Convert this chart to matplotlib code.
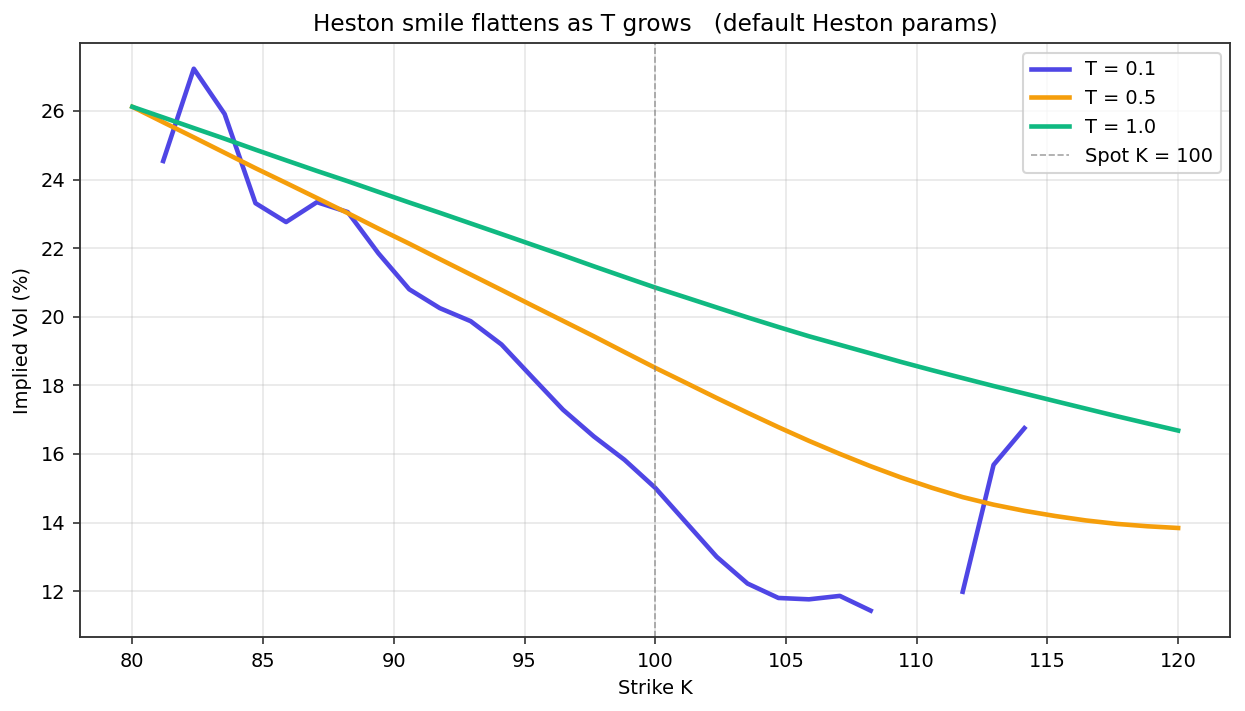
import numpy as np
import matplotlib
matplotlib.use("Agg")
import matplotlib.pyplot as plt

# Strike grid (35 points from 80 to 120)
strikes = [80.00, 81.18, 82.35, 83.53, 84.71, 85.88, 87.06, 88.24, 89.41, 90.59,
           91.76, 92.94, 94.12, 95.29, 96.47, 97.65, 98.82, 100.00, 101.18, 102.35,
           103.53, 104.71, 105.88, 107.06, 108.24, 109.41, 110.59, 111.76, 112.94, 114.12,
           115.29, 116.47, 117.65, 118.82, 120.00]

nan = np.nan
iv_t01 = [nan, 24.54, 27.23, 25.91, 23.31, 22.76, 23.34, 23.05, 21.85, 20.80,
          20.25, 19.87, 19.19, 18.24, 17.29, 16.51, 15.83, 15.01, 14.00, 13.00,
          12.22, 11.80, 11.76, 11.86, 11.43, nan, nan, 11.98, 15.68, 16.75,
          nan, nan, nan, nan, nan]
iv_t05 = [26.12, 25.67, 25.23, 24.78, 24.33, 23.90, 23.46, 23.02, 22.57, 22.13,
          21.68, 21.23, 20.78, 20.33, 19.88, 19.43, 18.97, 18.51, 18.07, 17.63,
          17.20, 16.78, 16.38, 16.00, 15.64, 15.31, 15.01, 14.74, 14.52, 14.34,
          14.19, 14.06, 13.96, 13.89, 13.84]
iv_t10 = [26.12, 25.81, 25.50, 25.19, 24.87, 24.56, 24.25, 23.95, 23.64, 23.33,
          23.03, 22.72, 22.41, 22.10, 21.79, 21.47, 21.16, 20.85, 20.56, 20.27,
          19.98, 19.70, 19.43, 19.18, 18.93, 18.68, 18.44, 18.21, 17.98, 17.76,
          17.54, 17.32, 17.10, 16.89, 16.68]

series = [("T = 0.1", iv_t01, "#4F46E5"),
          ("T = 0.5", iv_t05, "#F59E0B"),
          ("T = 1.0", iv_t10, "#10B981")]
spot = 100

plt.rcParams.update({
    "font.size": 9.3,
    "axes.edgecolor": "#333333",
    "axes.linewidth": 0.9,
    "xtick.color": "#333333",
    "ytick.color": "#333333",
    "xtick.labelcolor": "black",
    "ytick.labelcolor": "black",
})

fig = plt.figure(figsize=(8.3, 4.74), dpi=150)
ax = fig.add_axes([0.0643, 0.104, 0.924, 0.8355])

for label, vals, color in series:
    ax.plot(strikes, vals, color=color, lw=2.2, label=label)

ax.axvline(spot, color="gray", ls="--", lw=0.8, alpha=0.7, label=f"Spot K = {spot}")

ax.set_ylim(10.66, 27.98)
ax.set_title("Heston smile flattens as T grows   (default Heston params)", fontsize=11.2)
ax.set_xlabel("Strike K")
ax.set_ylabel("Implied Vol (%)")
ax.grid(True, alpha=0.3)
ax.legend(loc="upper right")

fig.savefig("out.png", dpi=150)
